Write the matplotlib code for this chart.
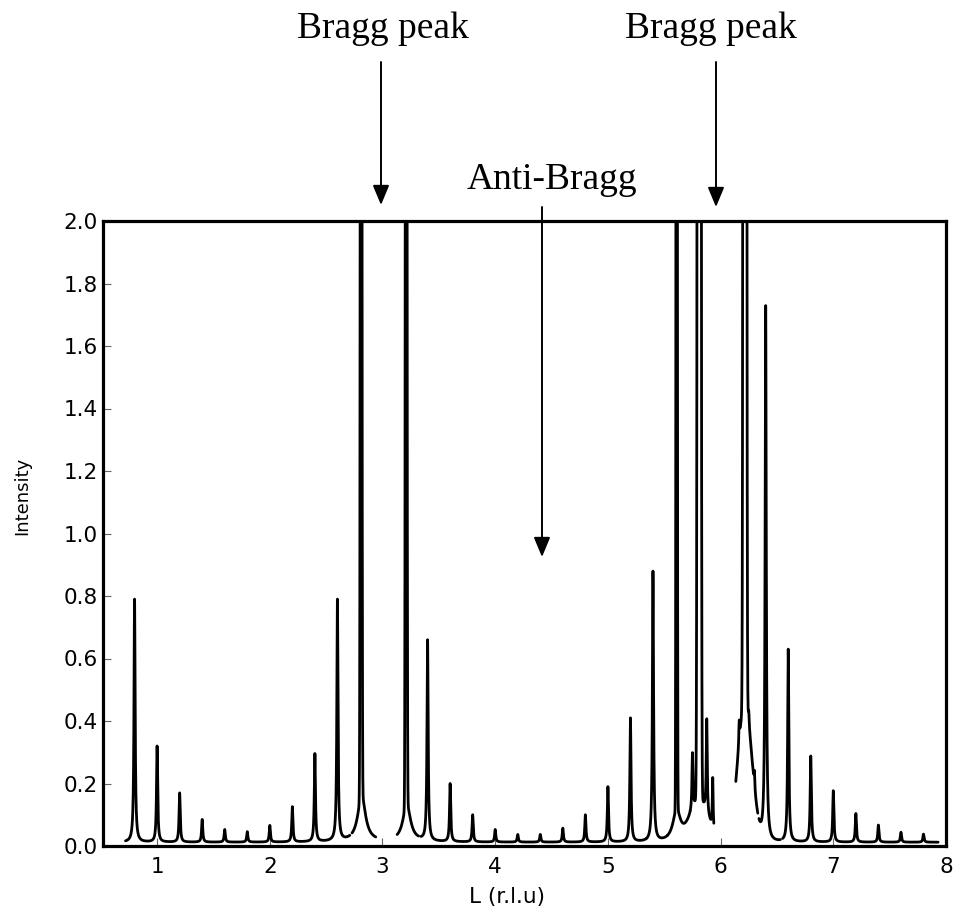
import numpy as np
import matplotlib
matplotlib.use("Agg")
import matplotlib.pyplot as plt
from matplotlib.patches import FancyArrowPatch
from matplotlib import font_manager

# ---------------- data ----------------
# regular superlattice peaks: L position, observed peak intensity
main_centers = [0.8, 1.0, 1.2, 1.4, 1.6, 1.8, 2.0, 2.2, 2.4, 2.6,
                3.4, 3.6, 3.8, 4.0, 4.2, 4.4, 4.6, 4.8, 5.0, 5.2, 5.4,
                6.4, 6.6, 6.8, 7.0, 7.2, 7.4, 7.6, 7.8]
main_heights = [0.79, 0.32, 0.17, 0.085, 0.053, 0.046, 0.066, 0.126, 0.296, 0.79,
                0.66, 0.20, 0.10, 0.053, 0.037, 0.037, 0.057, 0.10, 0.19, 0.41, 0.88,
                1.73, 0.63, 0.288, 0.177, 0.104, 0.067, 0.044, 0.038]
main_hwhm = 0.006

# strong (off-scale) Bragg-type peaks: position, intensity, gaussian sigma
bragg_centers = [2.81, 3.21, 5.61, 5.81, 6.215]
bragg_heights = [8.0, 8.0, 8.0, 40.0, 40.0]
bragg_sigmas = [0.005, 0.005, 0.004, 0.008, 0.0075]

# lorentzian shoulders / satellites around the Bragg peaks
shoulder_centers = [2.815, 3.215, 5.61, 5.75, 5.877, 5.93, 6.165, 6.25, 6.30]
shoulder_heights = [0.15, 0.12, 0.10, 0.18, 0.30, 0.16, 0.07, 0.04, 0.05]
shoulder_hwhm = [0.04, 0.04, 0.04, 0.005, 0.005, 0.004, 0.004, 0.004, 0.004]

# broad gaussian humps of diffuse scattering
hump_centers = [5.81, 6.215]
hump_heights = [0.13, 0.44]
hump_sigmas = [0.08, 0.062]

background = 0.012

# separately measured scan pieces (L ranges)
seg_start = [0.72, 2.73, 3.13, 3.34, 5.34, 5.53, 5.73, 6.135, 6.34, 6.55]
seg_end = [2.71, 2.94, 3.32, 5.34, 5.53, 5.73, 5.94, 6.33, 6.53, 7.93]

xticks = [1, 2, 3, 4, 5, 6, 7, 8]
yticks = [0.0, 0.2, 0.4, 0.6, 0.8, 1.0, 1.2, 1.4, 1.6, 1.8, 2.0]


def lor(L, c, h, g):
    return h / (1 + ((L - c) / g) ** 2)


def gau(L, c, h, s):
    return h * np.exp(-0.5 * ((L - c) / s) ** 2)


def other(L):
    y = np.full_like(np.asarray(L, dtype=float), background)
    for c, h, s in zip(bragg_centers, bragg_heights, bragg_sigmas):
        y += gau(L, c, h, s)
    for c, h, g in zip(shoulder_centers, shoulder_heights, shoulder_hwhm):
        y += lor(L, c, h, g)
    for c, h, s in zip(hump_centers, hump_heights, hump_sigmas):
        y += gau(L, c, h, s)
    return y


# amplitudes so that the drawn peak tops match the observed heights
mc = np.array(main_centers)
amps = np.array(main_heights) - other(mc)
for i in range(len(mc)):
    rest = sum(lor(mc[i], mc[j], amps[j], main_hwhm) for j in range(len(mc)) if j != i)
    amps[i] -= rest


def intensity(L):
    y = other(L)
    for c, a in zip(main_centers, amps):
        y += lor(L, c, a, main_hwhm)
    return y


W, H = 963, 917
fig = plt.figure(figsize=(W / 100, H / 100), dpi=100)
ax = fig.add_axes([103 / W, 1 - 846 / H, 843 / W, 625 / H])

for a, b in zip(seg_start, seg_end):
    if b <= a:
        continue
    L = np.linspace(a, b, int((b - a) / 0.0004) + 2)
    ax.plot(L, intensity(L), color="black", lw=2.0, solid_joinstyle="round",
            solid_capstyle="round")

ax.set_xlim(0.52, 8.0)
ax.set_ylim(0.0, 2.0)
ax.set_xticks(xticks)
ax.set_xticklabels([str(t) for t in xticks])
ax.set_yticks(yticks)
ax.set_yticklabels([f"{t:.1f}" for t in yticks])
for sp in ax.spines.values():
    sp.set_linewidth(2.3)
    sp.set_color("black")
    sp.set_zorder(5)
ax.tick_params(direction="in", length=5.5, width=0.8, color="#666666",
               labelsize=15.5)
ax.tick_params(axis="x", pad=8)
ax.tick_params(axis="y", pad=4)

# y label in a narrow font if available
try:
    font_manager.findfont("Liberation Sans Narrow", fallback_to_default=False)
    ax.set_ylabel("Intensity", family="Liberation Sans Narrow", fontsize=15)
except Exception:
    ax.set_ylabel("Intensity", family="DejaVu Sans", fontsize=13)
ax.yaxis.set_label_coords(-0.085, 0.56)
ax.set_xlabel("L (r.l.u)", fontsize=15.5)
ax.xaxis.set_label_coords(0.479, -0.066)

serif = dict(family="Liberation Serif", fontsize=27, ha="center", va="center")
fig.text(383 / W, 1 - 29 / H, "Bragg peak", **serif)
fig.text(711 / W, 1 - 29 / H, "Bragg peak", **serif)
fig.text(552 / W, 1 - 180 / H, "Anti-Bragg", **serif)


def farrow(x, y0, y1):
    fig.add_artist(FancyArrowPatch((x / W, 1 - y0 / H), (x / W, 1 - y1 / H),
                                   transform=fig.transFigure,
                                   arrowstyle="-|>,head_length=0.6,head_width=0.25",
                                   mutation_scale=20, color="black", lw=1.4,
                                   shrinkA=0, shrinkB=0))


farrow(381, 62, 205)
farrow(716, 62, 207)
farrow(542, 207, 557)

fig.savefig("out.png", dpi=100)
